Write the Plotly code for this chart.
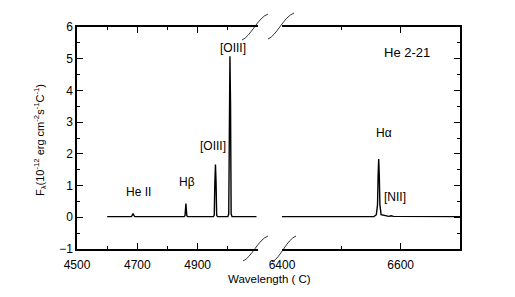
import plotly.graph_objects as go

# Blue region spectrum (left panel)
wl_blue = [4600, 4680, 4683, 4686, 4689, 4692, 4855, 4858, 4860, 4861, 4862, 4864, 4867,
           4952, 4955, 4957, 4959, 4961, 4963, 4966, 5000, 5003, 5005, 5007, 5009, 5011, 5014, 5095]
fx_blue = [0.02, 0.02, 0.06, 0.12, 0.05, 0.02, 0.02, 0.05, 0.30, 0.43, 0.30, 0.05, 0.02,
           0.02, 0.06, 1.10, 1.66, 1.10, 0.06, 0.02, 0.02, 0.10, 3.50, 5.08, 3.50, 0.10, 0.02, 0.02]
# Red region spectrum (right panel)
wl_red = [6400, 6555, 6559, 6561, 6562, 6563, 6564, 6565, 6567, 6580, 6584, 6588, 6700]
fx_red = [0.02, 0.02, 0.08, 0.40, 1.30, 1.84, 1.30, 0.40, 0.08, 0.03, 0.05, 0.03, 0.02]

blue_ticks = [4500, 4700, 4900]
red_ticks = [6400, 6600]

W, H = 515, 297
def px(x): return x / W
def py(y): return 1 - y / H

fig = go.Figure()
fig.add_trace(go.Scatter(x=wl_blue, y=fx_blue, mode="lines", line=dict(color="black", width=1.4),
                         xaxis="x", yaxis="y", showlegend=False, hoverinfo="skip"))
fig.add_trace(go.Scatter(x=wl_red, y=fx_red, mode="lines", line=dict(color="black", width=1.4),
                         xaxis="x2", yaxis="y2", showlegend=False, hoverinfo="skip"))

font = dict(family="Liberation Sans, Arial, sans-serif", size=12, color="black")
common_x = dict(showgrid=False, zeroline=False, showline=True, linecolor="black", linewidth=1.5,
                mirror="ticks", ticks="inside", ticklen=6, tickwidth=1, tickcolor="black",
                tickfont=font, automargin=False, ticklabelstandoff=4,
                minor=dict(ticks="inside", ticklen=3, dtick=100, tickcolor="black", showgrid=False))
common_y = dict(range=[-1, 6], showgrid=False, zeroline=False, showline=True, linecolor="black",
                linewidth=1.5, ticks="inside", ticklen=6, tickwidth=1, tickcolor="black",
                tickfont=font, dtick=1, automargin=False,
                minor=dict(ticks="inside", ticklen=3, dtick=0.5, tickcolor="black", showgrid=False),
                domain=[py(249), py(27)])

fig.update_layout(
    width=W, height=H, margin=dict(l=0, r=0, t=0, b=0, autoexpand=False),
    paper_bgcolor="white", plot_bgcolor="white", font=font,
    xaxis=dict(common_x, range=[4500, 5100], tickmode="array", tickvals=blue_ticks,
               domain=[px(77), px(258)], anchor="y"),
    xaxis2=dict(common_x, range=[6400, 6700], tickmode="array", tickvals=red_ticks,
                domain=[px(282), px(460)], anchor="y2"),
    yaxis=dict(common_y, anchor="x", side="left"),
    yaxis2=dict(common_y, anchor="x2", side="right", showticklabels=False),
)

ann = [
    dict(x=4705, y=0.81, text="He II", xref="x", yref="y"),
    dict(x=4864, y=1.10, text="Hβ", xref="x", yref="y"),
    dict(x=4950, y=2.26, text="[OIII]", xref="x", yref="y"),
    dict(x=5018, y=5.35, text="[OIII]", xref="x", yref="y"),
    dict(x=6572, y=2.67, text="Hα", xref="x2", yref="y2"),
    dict(x=6590, y=0.65, text="[NII]", xref="x2", yref="y2"),
]
for a in ann:
    fig.add_annotation(**a, showarrow=False, font=dict(font, size=12))
fig.add_annotation(x=6611, y=5.2, xref="x2", yref="y2", text="He 2-21", showarrow=False,
                   font=dict(font, size=13))
fig.add_annotation(x=px(269.5), y=py(279), xref="paper", yref="paper", text="Wavelength ( C)",
                   xanchor="center", yanchor="middle", showarrow=False, font=dict(font, size=11.5))
fig.add_annotation(x=px(40), y=py(140), xref="paper", yref="paper", textangle=-90,
                   xanchor="center", yanchor="middle",
                   text="F<sub>λ</sub>(10<sup>-12</sup> erg cm<sup>-2</sup>s<sup>-1</sup>C<sup>-1</sup>)",
                   showarrow=False, font=dict(font, size=11))

def squiggle(x0, y0, x1, y1):
    dx, dy = x1 - x0, y1 - y0
    p = [(x0, y0), (x0 + 0.35 * dx, y0 + 0.15 * dy), (x0 + 0.6 * dx, y0 + 0.85 * dy), (x1, y1)]
    pts = [f"{px(a)},{py(b)}" for a, b in p]
    return f"M {pts[0]} C {pts[1]} {pts[2]} {pts[3]}"

for (x0, y0, x1, y1) in [(242, 40, 268, 14), (268, 39, 294, 13), (243, 261, 268, 236), (272, 262, 296, 236)]:
    fig.add_shape(type="path", path=squiggle(x0, y0, x1, y1), xref="paper", yref="paper",
                  line=dict(color="black", width=0.8))

fig.write_html("out.html")
